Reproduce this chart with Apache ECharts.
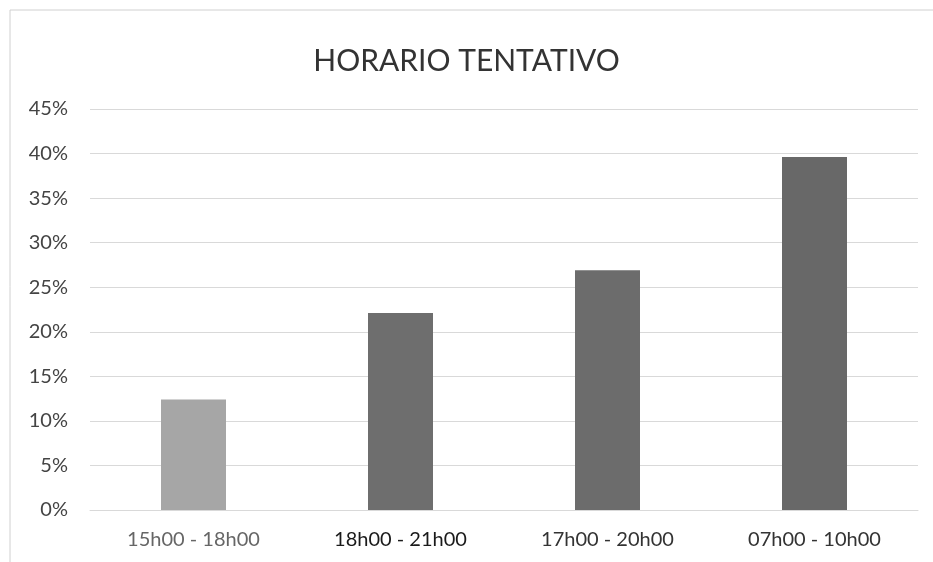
<!DOCTYPE html>
<html>
<head>
<meta charset="utf-8">
<script src="https://cdn.jsdelivr.net/npm/echarts@6/dist/echarts.min.js"></script>
<style>
  html, body { margin: 0; padding: 0; background: #fff; }
  #myChart { width: 933px; height: 562px; }
</style>
</head>
<body>
<div id="myChart"></div>
<script>
// datos
const categories = ['15h00 - 18h00', '18h00 - 21h00', '17h00 - 20h00', '07h00 - 10h00'];
const values = [12.4, 22.1, 26.9, 39.6];
const barColors = ['#a6a6a6', '#6e6e6e', '#6c6c6c', '#686868'];
const labelColors = ['#666666', '#1a1a1a', '#333333', '#333333'];

const myChart = echarts.init(document.getElementById('myChart'));
myChart.setOption({
  animation: false,
  textStyle: { fontFamily: 'Lato' },
  title: {
    text: 'HORARIO TENTATIVO',
    left: 'center',
    top: 41,
    textStyle: { fontSize: 30, fontWeight: 'normal', color: '#333', fontFamily: 'Lato' },
  },
  graphic: [
    {
      type: 'rect',
      shape: { x: 10, y: 10, width: 940, height: 560 },
      style: { fill: 'none', stroke: '#d0d0d0', lineWidth: 1 },
    },
  ],
  grid: { left: 90, right: 15, top: 109, bottom: 52 },
  xAxis: {
    type: 'category',
    data: categories,
    axisLine: { lineStyle: { color: '#d9d9d9' } },
    axisTick: { show: false },
    axisLabel: {
      fontSize: 20,
      margin: 20,
      color: (val, idx) => labelColors[idx],
    },
  },
  yAxis: {
    type: 'value',
    min: 0,
    max: 45,
    interval: 5,
    axisLine: { show: false },
    axisTick: { show: false },
    axisLabel: { fontSize: 20, color: '#444', margin: 22, formatter: '{value}%' },
    splitLine: { lineStyle: { color: '#d9d9d9' } },
  },
  series: [
    {
      type: 'bar',
      barWidth: 65,
      data: values.map((v, i) => ({ value: v, itemStyle: { color: barColors[i] } })),
    },
  ],
});
</script>
</body>
</html>
